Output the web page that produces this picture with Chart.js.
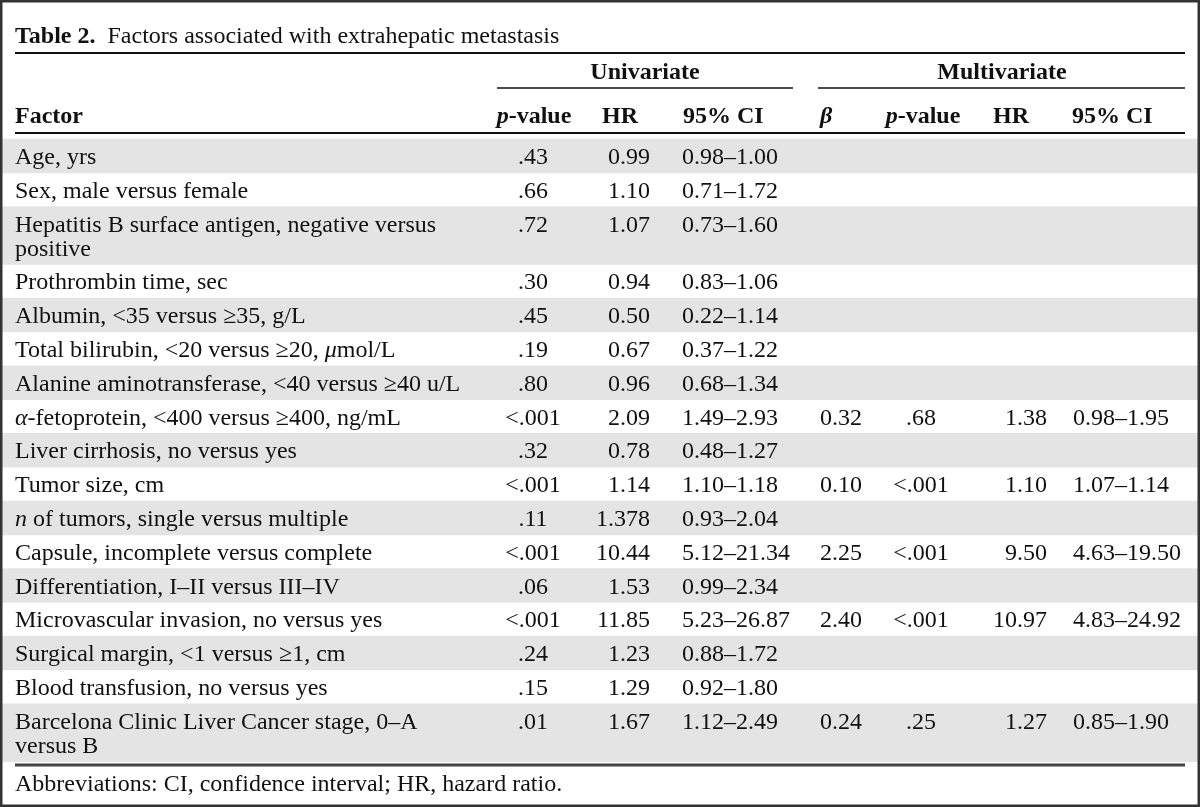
<!DOCTYPE html>
<html>
<head>
<meta charset="utf-8">
<script src="https://cdn.jsdelivr.net/npm/chart.js@4.4.1/dist/chart.umd.min.js"></script>
<style>
  html, body { margin: 0; padding: 0; background: #fff; }
  canvas { display: block; }
</style>
</head>
<body>
<canvas id="tabla" width="1200" height="807"></canvas>
<script>
// datos de la tabla (texto entre * va en cursiva)
const factors = [
  'Age, yrs',
  'Sex, male versus female',
  'Hepatitis B surface antigen, negative versus\npositive',
  'Prothrombin time, sec',
  'Albumin, <35 versus \u226535, g/L',
  'Total bilirubin, <20 versus \u226520, *\u03bc*mol/L',
  'Alanine aminotransferase, <40 versus \u226540 u/L',
  '*\u03b1*-fetoprotein, <400 versus \u2265400, ng/mL',
  'Liver cirrhosis, no versus yes',
  'Tumor size, cm',
  '*n* of tumors, single versus multiple',
  'Capsule, incomplete versus complete',
  'Differentiation, I\u2013II versus III\u2013IV',
  'Microvascular invasion, no versus yes',
  'Surgical margin, <1 versus \u22651, cm',
  'Blood transfusion, no versus yes',
  'Barcelona Clinic Liver Cancer stage, 0\u2013A\nversus B'
]
const uniP = ['.43', '.66', '.72', '.30', '.45', '.19', '.80', '<.001', '.32', '<.001', '.11', '<.001', '.06', '<.001', '.24', '.15', '.01']
const uniHR = ['0.99', '1.10', '1.07', '0.94', '0.50', '0.67', '0.96', '2.09', '0.78', '1.14', '1.378', '10.44', '1.53', '11.85', '1.23', '1.29', '1.67']
const uniCI = ['0.98\u20131.00', '0.71\u20131.72', '0.73\u20131.60', '0.83\u20131.06', '0.22\u20131.14', '0.37\u20131.22', '0.68\u20131.34', '1.49\u20132.93', '0.48\u20131.27', '1.10\u20131.18', '0.93\u20132.04', '5.12\u201321.34', '0.99\u20132.34', '5.23\u201326.87', '0.88\u20131.72', '0.92\u20131.80', '1.12\u20132.49']
const beta = [null, null, null, null, null, null, null, '0.32', null, '0.10', null, '2.25', null, '2.40', null, null, '0.24']
const multiP = [null, null, null, null, null, null, null, '.68', null, '<.001', null, '<.001', null, '<.001', null, null, '.25']
const multiHR = [null, null, null, null, null, null, null, '1.38', null, '1.10', null, '9.50', null, '10.97', null, null, '1.27']
const multiCI = [null, null, null, null, null, null, null, '0.98\u20131.95', null, '1.07\u20131.14', null, '4.63\u201319.50', null, '4.83\u201324.92', null, null, '0.85\u20131.90']

const FONT = '"Liberation Serif", "Times New Roman", serif'
const FS = 24
const ROW_H = 33.8
const LINE_H = 24
const TOP = 139

// alto de cada fila segun numero de lineas
const rowTop = []
const rowH = []
let yy = TOP
factors.forEach(f => {
  const n = f.split('\n').length
  rowTop.push(yy)
  rowH.push(ROW_H + (n - 1) * LINE_H)
  yy += ROW_H + (n - 1) * LINE_H
})

// columnas: [valores, x, alineacion]
const columnas = [
  [uniP, 533, 'center'],
  [uniHR, 650, 'right'],
  [uniCI, 682, 'left'],
  [beta, 820, 'left'],
  [multiP, 921, 'center'],
  [multiHR, 1047, 'right'],
  [multiCI, 1073, 'left']
]
const cabeceras = [
  ['Factor', 15, 'left'],
  ['*p*-value', 534, 'center'],
  ['HR', 602, 'left'],
  ['95% CI', 683, 'left'],
  ['*\u03b2*', 820, 'left'],
  ['*p*-value', 923, 'center'],
  ['HR', 993, 'left'],
  ['95% CI', 1072, 'left']
]

function drawRich(ctx, str, x, y, align, bold) {
  const parts = str.split('*')
  const segs = parts.map((t, i) => ({
    t: t,
    f: (i % 2 ? 'italic ' : '') + (bold ? 'bold ' : '') + FS + 'px ' + FONT
  })).filter(s => s.t.length)
  let w = 0
  segs.forEach(s => { ctx.font = s.f; s.w = ctx.measureText(s.t).width; w += s.w })
  let cx = x
  if (align === 'center') cx = x - w / 2
  if (align === 'right') cx = x - w
  ctx.textAlign = 'left'
  segs.forEach(s => { ctx.font = s.f; ctx.fillText(s.t, cx, y); cx += s.w })
}

const textoTabla = {
  id: 'textoTabla',
  afterDatasetsDraw(chart) {
    const ctx = chart.ctx
    const ys = chart.scales.y
    const xs = chart.scales.x
    const py = v => ys.getPixelForValue(v)
    // posicion horizontal en pixeles de pagina sobre la escala x
    const px = v => xs.getPixelForDecimal((v - 2) / 1196)
    const hline = (x1, x2, y, w, color) => {
      ctx.beginPath()
      ctx.lineWidth = w
      ctx.strokeStyle = color
      ctx.moveTo(px(x1), py(y))
      ctx.lineTo(px(x2), py(y))
      ctx.stroke()
    }
    ctx.save()
    ctx.fillStyle = '#111'
    ctx.textBaseline = 'alphabetic'

    // titulo
    ctx.font = 'bold ' + FS + 'px ' + FONT
    ctx.textAlign = 'left'
    ctx.fillText('Table 2.', px(15), py(43))
    const wt = ctx.measureText('Table 2.  ').width
    ctx.font = FS + 'px ' + FONT
    ctx.fillText('Factors associated with extrahepatic metastasis', px(15) + wt, py(43))
    hline(15, 1185, 53, 2, '#111')

    // grupos
    drawRich(ctx, 'Univariate', px(645), py(79), 'center', true)
    drawRich(ctx, 'Multivariate', px(1002), py(79), 'center', true)
    hline(497, 793, 88, 1.5, '#111')
    hline(818, 1185, 88, 1.5, '#111')

    // cabeceras
    cabeceras.forEach(c => drawRich(ctx, c[0], px(c[1]), py(123), c[2], true))
    hline(15, 1185, 133, 2, '#111')

    // filas
    factors.forEach((f, i) => {
      const lineas = f.split('\n')
      const base = rowTop[i] + ROW_H / 2 + 8
      lineas.forEach((l, k) => drawRich(ctx, l, px(15), py(base + k * LINE_H), 'left', false))
      columnas.forEach(c => {
        if (c[0][i] != null) drawRich(ctx, c[0][i], px(c[1]), py(base), c[2], false)
      })
    })

    hline(15, 1185, 765, 3, '#444')
    drawRich(ctx, 'Abbreviations: CI, confidence interval; HR, hazard ratio.', px(15), py(791), 'left', false)

    // marco
    ctx.lineWidth = 2.5
    ctx.strokeStyle = '#333'
    ctx.strokeRect(1.25, 1.25, chart.width - 2.5, chart.height - 2.5)
    ctx.restore()
  }
}

function init() {
  const tabla = document.getElementById('tabla')
  // filas sombreadas: una barra flotante por fila par
  const sombreadas = factors.map((f, i) => i).filter(i => i % 2 === 0)
  new Chart(tabla, {
    type: 'bar',
    data: {
      labels: ['filas'],
      datasets: sombreadas.map(i => ({
        label: factors[i],
        data: [[rowTop[i], rowTop[i] + rowH[i]]],
        backgroundColor: '#e4e4e4',
        borderWidth: 0,
        grouped: false,
        barPercentage: 1,
        categoryPercentage: 1
      }))
    },
    options: {
      responsive: false,
      animation: false,
      devicePixelRatio: 1,
      layout: { padding: { left: 2, right: 2, top: 0, bottom: 0 } },
      plugins: { legend: { display: false }, tooltip: { enabled: false } },
      scales: {
        x: { display: false, offset: true },
        y: { type: 'linear', display: false, min: 0, max: 807, reverse: true }
      }
    },
    plugins: [textoTabla]
  })
}

init()
</script>
</body>
</html>
